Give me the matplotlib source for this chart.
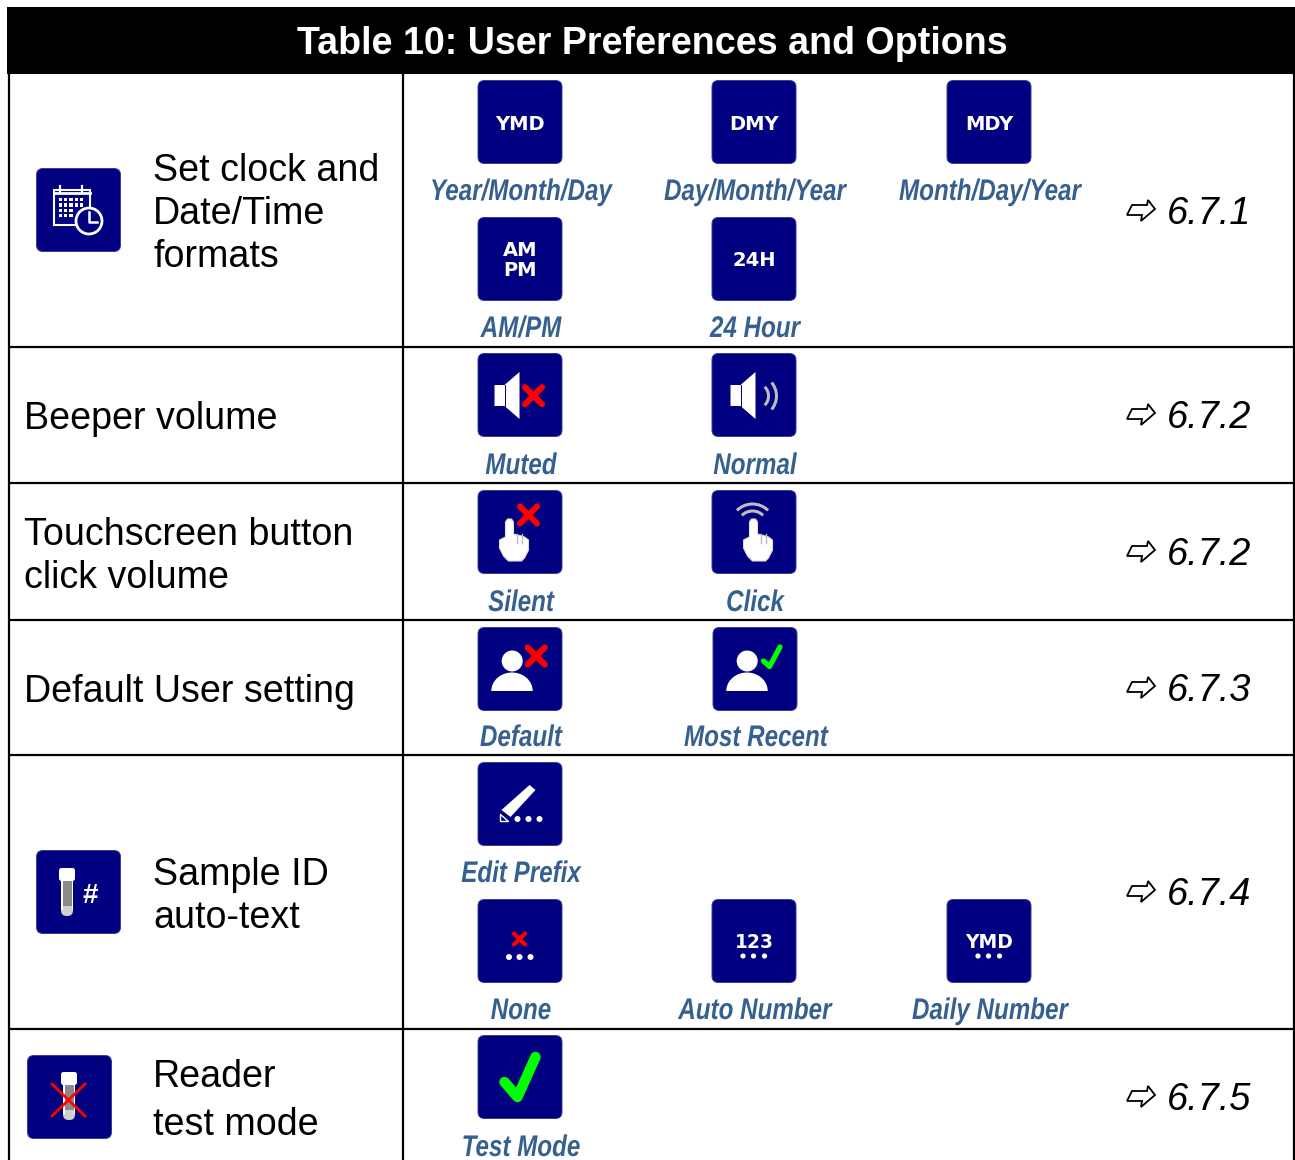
import numpy as np
import matplotlib
matplotlib.use("Agg")
import matplotlib.pyplot as plt
from matplotlib.patches import FancyBboxPatch, Polygon, Rectangle, Circle, Arc
from matplotlib.patheffects import AbstractPathEffect
from matplotlib.transforms import Affine2D

# ---------- content ----------
title = "Table 10: User Preferences and Options"
row_lines = [["Set clock and", "Date/Time", "formats"], ["Beeper volume"],
             ["Touchscreen button", "click volume"], ["Default User setting"],
             ["Sample ID", "auto-text"], ["Reader", "test mode"]]
refs = ["6.7.1", "6.7.2", "6.7.2", "6.7.3", "6.7.4", "6.7.5"]
option_labels = ["Year/Month/Day", "Day/Month/Year", "Month/Day/Year", "AM/PM", "24 Hour",
                 "Muted", "Normal", "Silent", "Click", "Default", "Most Recent",
                 "Edit Prefix", "None", "Auto Number", "Daily Number", "Test Mode"]
option_glyphs = ["ymd", "dmy", "mdy", "ampm", "24h", "muted", "normal", "silent", "click",
                 "default", "recent", "edit", "none", "auto", "daily", "test"]

# ---------- layout (pixels) ----------
W, H = 1295, 1160
row_baselines = [[181, 224, 267], [429], [545, 588], [702], [885, 928], [1087, 1135]]
row_text_x = [153, 24, 24, 24, 153, 153]
ref_baselines = [224, 428, 565, 701, 905, 1110]
rules_y = [347, 483, 620, 755, 1029]
opt_cx = [520, 754, 989, 520, 754, 520, 754, 520, 754, 520, 755, 520, 520, 754, 989, 520]
opt_top = [80, 80, 80, 217, 217, 353, 353, 490, 490, 627, 627, 762, 899, 899, 899, 1035]
lab_base = [200, 200, 200, 337, 337, 474, 474, 611, 611, 746, 746, 882, 1019, 1019, 1019, 1156]
side_icons = [("calendar", 36, 168), ("tube", 36, 850), ("tubex", 27, 1055)]

NAVY = "#000080"
BLUE = "#36608F"
RED = "#FF0000"
GREEN = "#00FF00"
GRAY = "#BDBDBD"
SANS = "Liberation Sans"

fig = plt.figure(figsize=(W / 100, H / 100), dpi=100, facecolor="white")
ax = fig.add_axes([0, 0, 1, 1])
ax.set_xlim(0, W)
ax.set_ylim(H, 0)
ax.axis("off")


class Squeeze(AbstractPathEffect):
    """Condenses a text horizontally about a pixel column (the file has no narrow font)."""

    def __init__(self, cx, sx):
        super().__init__()
        self.cx, self.sx = cx, sx

    def draw_path(self, renderer, gc, tpath, affine, rgbFace=None):
        squeeze = Affine2D().translate(-self.cx, 0).scale(self.sx, 1).translate(self.cx, 0)
        renderer.draw_path(gc, tpath, affine + squeeze, rgbFace)


# ---------- table frame ----------
ax.add_patch(Rectangle((7, 7), 1288, 67, fc="black", ec="none", zorder=3))
ax.text(652, 54, title, color="white", fontsize=27.05, fontweight="bold", family=SANS,
        ha="center", va="baseline", zorder=4)
for y in rules_y:
    ax.plot([9, 1295], [y, y], color="black", lw=1.6, solid_capstyle="butt")
for x in [9, 403, 1294]:
    ax.plot([x, x], [73, H], color="black", lw=1.6, solid_capstyle="butt")


# ---------- icon helpers: local coordinates, origin at icon top-left ----------
def cross(x0, y0, cx, cy, h, lw=4.4):
    for s in (1, -1):
        ax.plot([x0 + cx - h, x0 + cx + h], [y0 + cy - s * h, y0 + cy + s * h],
                color=RED, lw=lw, solid_capstyle="round", zorder=7)


def poly(x0, y0, pts, fc="white", ec="none", lw=0, z=6):
    arr = np.array(pts, dtype=float) + [x0, y0]
    ax.add_patch(Polygon(arr, closed=True, fc=fc, ec=ec, lw=lw, zorder=z, joinstyle="round"))


def dots(x0, y0, xs, y, r=3):
    for dx in xs:
        ax.add_patch(Circle((x0 + dx, y0 + y), r, fc="white", ec="none", zorder=6))


def label(x0, y0, cy, s, size=14):
    ax.text(x0 + 42.5, y0 + cy, s, color="white", fontsize=size, family="DejaVu Sans",
            fontweight="bold", ha="center", va="center_baseline", zorder=6)


def speaker(x0, y0, dx):
    poly(x0, y0, [(17 + dx, 32), (27 + dx, 32), (42 + dx, 19), (42 + dx, 66), (27 + dx, 53), (17 + dx, 53)])
    ax.plot([x0 + 27.5 + dx] * 2, [y0 + 32, y0 + 53], color=NAVY, lw=0.7, zorder=7)


def hand(x0, y0, dx):
    pts = [(28, 47), (28, 32), (30, 29), (34, 29), (36, 32), (36, 44), (40, 45), (44, 46), (47, 47), (51, 50),
           (51, 60), (47, 68), (44, 71), (31, 71), (26, 66), (22, 58), (22, 50)]
    poly(x0 + dx, y0, pts, fc="white", ec="#DDDDDD", lw=0.8)
    for fx in (39, 44):
        ax.plot([x0 + dx + fx] * 2, [y0 + 44, y0 + 53], color=GRAY, lw=1, zorder=7)


def person(x0, y0):
    ax.add_patch(Circle((x0 + 34.7, y0 + 34), 10.5, fc="white", ec="none", zorder=6))
    t = np.linspace(np.pi, 2 * np.pi, 40)
    dome = np.column_stack([34.5 + 20.7 * np.cos(t), 64 + 18.5 * np.sin(t)])
    poly(x0, y0, dome)


def tube(x0, y0, cx, top, bot):
    ax.add_patch(FancyBboxPatch((x0 + cx - 6, y0 + top + 1), 12, bot - top - 2,
                                boxstyle="round,pad=0,rounding_size=5.5", fc="#D0D0D0", ec="none", zorder=6))
    ax.add_patch(Rectangle((x0 + cx - 6, y0 + top + 10), 1.5, bot - top - 17, fc="white", ec="none", zorder=7))
    ax.add_patch(Rectangle((x0 + cx + 4.5, y0 + top + 10), 1.5, bot - top - 17, fc="white", ec="none", zorder=7))
    ax.add_patch(Rectangle((x0 + cx - 4.5, y0 + top + 12), 9, bot - top - 23, fc="#8A8A8A", ec="none", zorder=7))
    ax.add_patch(FancyBboxPatch((x0 + cx - 8, y0 + top), 16, 13,
                                boxstyle="round,pad=0,rounding_size=2.5", fc="white", ec="none", zorder=8))


def draw_glyph(kind, x0, y0):
    if kind == "ymd":
        label(x0, y0, 42, "YMD")
    elif kind == "dmy":
        label(x0, y0, 42, "DMY")
    elif kind == "mdy":
        label(x0, y0, 42, "MDY")
    elif kind == "ampm":
        label(x0, y0, 31, "AM")
        label(x0, y0, 52, "PM")
    elif kind == "24h":
        label(x0, y0, 41, "24H")
    elif kind == "muted":
        speaker(x0, y0, 0)
        cross(x0, y0, 56, 42.7, 8.5)
    elif kind == "normal":
        speaker(x0, y0, 2)
        for r, a in ((13, 45), (21, 40)):
            ax.add_patch(Arc((x0 + 44, y0 + 43), 2 * r, 2 * r, theta1=-a, theta2=a, color=GRAY, lw=2.2, zorder=6))
    elif kind == "silent":
        hand(x0, y0, 0)
        cross(x0, y0, 51, 25, 8.5)
    elif kind == "click":
        hand(x0, y0, 10)
        for r in (15, 22):
            ax.add_patch(Arc((x0 + 41, y0 + 36), 2 * r, 2 * r, theta1=225, theta2=315, color=GRAY, lw=2.2, zorder=6))
    elif kind == "default":
        person(x0, y0)
        cross(x0, y0, 58.7, 29, 8.5)
    elif kind == "recent":
        person(x0, y0)
        ax.plot(x0 + np.array([51, 57, 67.5]), y0 + np.array([34, 39.5, 20]), color=GREEN, lw=3.8,
                solid_capstyle="round", solid_joinstyle="round", zorder=7)
    elif kind == "edit":
        poly(x0, y0, [(24, 48), (52, 23), (58, 28), (33, 55)])
        poly(x0, y0, [(22, 52), (22, 59), (30, 59)], fc=NAVY, ec="white", lw=1, z=7)
        dots(x0, y0, [40, 51, 62], 57)
    elif kind == "none":
        cross(x0, y0, 42, 40, 5.5, lw=3)
        dots(x0, y0, [31.5, 42, 53], 58)
    elif kind == "auto":
        label(x0, y0, 41, "123", 13.5)
        dots(x0, y0, [31.5, 42, 53], 57, 2.6)
    elif kind == "daily":
        label(x0, y0, 41, "YMD", 13.5)
        dots(x0, y0, [31.5, 42, 53], 57, 2.6)
    elif kind == "test":
        ax.plot(x0 + np.array([27, 40, 58]), y0 + np.array([47, 62, 22]), color=GREEN, lw=7.5,
                solid_capstyle="round", solid_joinstyle="round", zorder=7)
    elif kind == "calendar":
        ax.add_patch(Rectangle((x0 + 18, y0 + 22), 36, 35, fc=NAVY, ec="white", lw=1.5, zorder=6))
        ax.plot([x0 + 18, x0 + 54], [y0 + 25, y0 + 25], color="white", lw=2, zorder=6)
        for px in (24, 46):
            ax.plot([x0 + px] * 2, [y0 + 18, y0 + 24], color="white", lw=1.6, zorder=6)
        for i in range(5):
            for j in range(4):
                if i >= 3 and j >= 2:
                    continue
                ax.add_patch(Rectangle((x0 + 23 + i * 5.2, y0 + 30 + j * 5.4), 3.2, 3.2, fc="white", ec="none", zorder=6))
        ax.add_patch(Circle((x0 + 53, y0 + 53), 13, fc=NAVY, ec="white", lw=2, zorder=7))
        ax.plot(x0 + np.array([53, 53, 61]), y0 + np.array([44, 54, 54]), color="white", lw=1.8, zorder=8)
    elif kind == "tube":
        tube(x0, y0, 31, 18, 67)
        ax.text(x0 + 54, y0 + 43, "#", color="white", fontsize=20, fontweight="bold", family=SANS,
                ha="center", va="center_baseline", zorder=8)
    elif kind == "tubex":
        tube(x0, y0, 42, 17, 66)
        for s in (1, -1):
            ax.plot([x0 + 25, x0 + 58], [y0 + 45 - s * 16, y0 + 45 + s * 16], color=RED, lw=2, zorder=9)


def icon(kind, x0, y0, w=85, h=84):
    ax.add_patch(FancyBboxPatch((x0 + 0.5, y0 + 0.5), w - 1, h - 1, boxstyle="round,pad=0,rounding_size=6.5",
                                fc=NAVY, ec="#3A3A9A", lw=0.7, zorder=5))
    draw_glyph(kind, x0, y0)


# ---------- left column ----------
for lines, ys, x in zip(row_lines, row_baselines, row_text_x):
    for s, y in zip(lines, ys):
        ax.text(x, y, s, fontsize=27.05, family=SANS, color="black", ha="left", va="baseline", zorder=4)
for kind, x0, y0 in side_icons:
    icon(kind, x0, y0)

# ---------- options ----------
for s, g, cx, top, base in zip(option_labels, option_glyphs, opt_cx, opt_top, lab_base):
    icon(g, cx - 42.5, top)
    ax.text(cx + 1, base, s, fontsize=21.5, family=SANS, fontweight="bold", fontstyle="italic",
            color=BLUE, ha="center", va="baseline", zorder=4,
            path_effects=[Squeeze(cx + 1, 0.81)])

# ---------- references ----------
for s, base in zip(refs, ref_baselines):
    ax.text(1167, base, s, fontsize=27.4, family=SANS, fontstyle="italic", color="black",
            ha="left", va="baseline", zorder=4)
    arrow = [(1127, -8), (1132, -18), (1147, -18), (1148, -23), (1155, -14), (1141, -2), (1142, -8)]
    ax.add_patch(Polygon(np.array(arrow, dtype=float) + [0, base - 1], closed=True, fc="white", ec="black",
                         lw=1.3, zorder=4))

fig.savefig("out.png", dpi=100, facecolor="white")
